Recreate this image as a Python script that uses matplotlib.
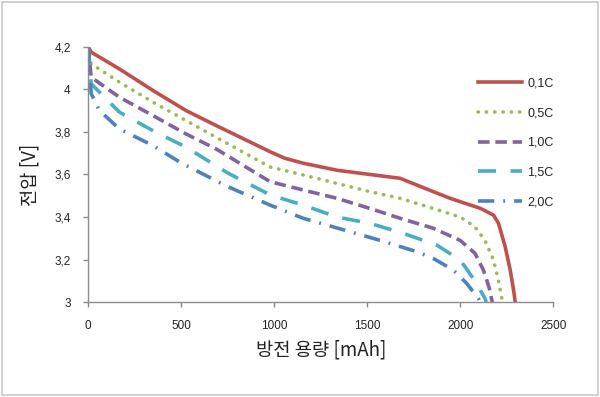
import matplotlib
matplotlib.use("Agg")
import matplotlib.pyplot as plt
from matplotlib.ticker import FuncFormatter
from matplotlib.patches import Rectangle

plt.rcParams['font.family'] = ['Noto Sans CJK KR', 'DejaVu Sans']

labels = ["0,1C", "0,5C", "1,0C", "1,5C", "2,0C"]
colors = ["#C0504D", "#9BBB59", "#8064A2", "#4BACC6", "#4F81BD"]

cap_01 = [0, 16, 168, 348, 527, 688, 978, 1058, 1156, 1337, 1516, 1677, 1856, 1946, 2000, 2108, 2179, 2206, 2242, 2269, 2287, 2296]
v_01 = [4.20, 4.175, 4.096, 3.995, 3.90, 3.83, 3.707, 3.676, 3.653, 3.62, 3.60, 3.582, 3.519, 3.488, 3.472, 3.441, 3.409, 3.37, 3.26, 3.15, 3.056, 3.0]

cap_05 = [0, 16, 168, 348, 527, 688, 978, 1156, 1337, 1516, 1677, 1856, 2000, 2079, 2133, 2179, 2206, 2224, 2228]
v_05 = [4.20, 4.12, 4.034, 3.94, 3.853, 3.775, 3.635, 3.598, 3.558, 3.519, 3.488, 3.44, 3.40, 3.354, 3.29, 3.198, 3.10, 3.017, 3.0]

cap_10 = [0, 16, 168, 348, 527, 688, 978, 1156, 1337, 1516, 1677, 1856, 2000, 2079, 2125, 2155, 2170, 2172]
v_10 = [4.20, 4.057, 3.963, 3.877, 3.79, 3.72, 3.566, 3.527, 3.488, 3.44, 3.394, 3.347, 3.29, 3.23, 3.15, 3.07, 3.01, 3.0]

cap_15 = [0, 16, 168, 348, 527, 750, 978, 1156, 1337, 1516, 1695, 1874, 2000, 2079, 2133, 2140]
v_15 = [4.20, 4.026, 3.893, 3.806, 3.728, 3.607, 3.504, 3.456, 3.40, 3.37, 3.323, 3.268, 3.198, 3.10, 3.018, 3.0]

cap_20 = [0, 16, 61, 168, 348, 500, 750, 978, 1156, 1372, 1570, 1767, 1856, 1964, 2035, 2098, 2105]
v_20 = [4.20, 3.98, 3.90, 3.814, 3.736, 3.654, 3.543, 3.456, 3.394, 3.34, 3.29, 3.237, 3.205, 3.15, 3.088, 3.017, 3.0]

series = [(cap_01, v_01), (cap_05, v_05), (cap_10, v_10), (cap_15, v_15), (cap_20, v_20)]
styles = ['-', (0, (0.1, 2.2)), (0, (3.2, 1.6)), (0, (5, 4)), (0, (4.5, 2.5, 0.5, 2.5))]
caps = ['butt', 'round', 'butt', 'butt', 'butt']

xticks = [0, 500, 1000, 1500, 2000, 2500]
yticks = [3.0, 3.2, 3.4, 3.6, 3.8, 4.0, 4.2]

fig = plt.figure(figsize=(6.0, 3.97), dpi=100)
ax = fig.add_axes([0.147, 0.239, 0.775, 0.643])

for (x, y), lab, c, ls, cs in zip(series, labels, colors, styles, caps):
    line, = ax.plot(x, y, color=c, lw=2.6, label=lab, linestyle=ls)
    line.set_dash_capstyle(cs)
    line.set_solid_joinstyle('round')

ax.set_xlim(0, 2500)
ax.set_ylim(3.0, 4.2)
ax.set_xticks(xticks)
ax.set_yticks(yticks)

def yfmt(v, pos):
    s = "%.1f" % v
    if s.endswith(".0"):
        return s[:-2]
    return s.replace(".", ",")

ax.yaxis.set_major_formatter(FuncFormatter(yfmt))
ax.xaxis.set_major_formatter(FuncFormatter(lambda v, p: "%d" % v))

for s in ['top', 'right']:
    ax.spines[s].set_visible(False)
for s in ['left', 'bottom']:
    ax.spines[s].set_color('#8c8c8c')
    ax.spines[s].set_linewidth(1.0)
ax.tick_params(axis='both', direction='out', length=3.6, width=1, color='#8c8c8c',
               labelsize=8.5, labelcolor='#222222')
ax.tick_params(axis='y', pad=9)
ax.tick_params(axis='x', pad=9)
for t in ax.get_xticklabels() + ax.get_yticklabels():
    t.set_family(['Liberation Sans', 'DejaVu Sans'])

ax.set_xlabel("방전 용량 [mAh]", fontsize=13.5, color='#222222', labelpad=6)
ax.set_ylabel("전압 [V]", fontsize=13.5, color='#222222', labelpad=10)

leg = ax.legend(loc='upper left', bbox_to_anchor=(0.839, 0.88), frameon=False,
                borderaxespad=0, borderpad=0,
                handlelength=3.5, labelspacing=1.42, handletextpad=0.4,
                prop={'family': ['Liberation Sans', 'DejaVu Sans'], 'size': 9})
for t in leg.get_texts():
    t.set_color('#222222')

fig.patches.append(Rectangle((0.004, 0.004), 0.992, 0.992, transform=fig.transFigure,
                             fill=False, edgecolor='#c8c8c8', lw=1.2))

fig.savefig("out.png", dpi=100)
